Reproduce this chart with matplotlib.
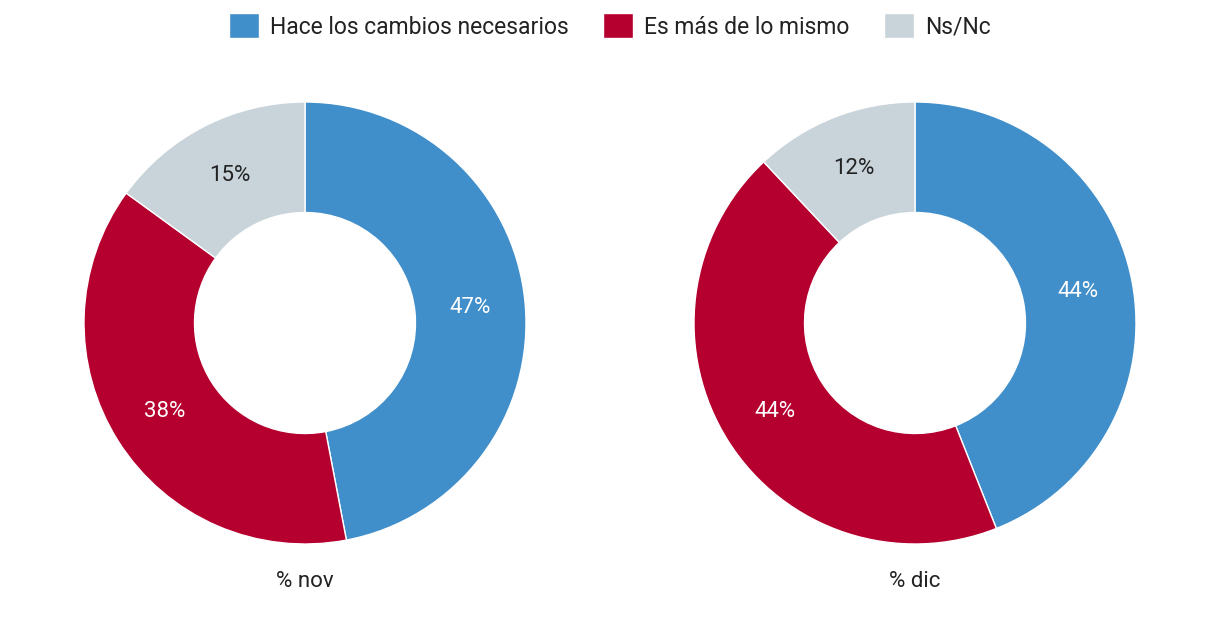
import numpy as np
import matplotlib.pyplot as plt

categories = ['Hace los cambios necesarios', 'Es más de lo mismo', 'Ns/Nc']
nov = [47, 38, 15]
dic = [44, 44, 12]
titles = ['% nov', '% dic']
colors = ['#418fca', '#b5002f', '#c8d3da']
text_colors = ['white', 'white', '#222222']

plt.rcParams['font.family'] = ['Roboto', 'DejaVu Sans']

fig = plt.figure(figsize=(12.2, 6.26), dpi=100)

def draw(cx, values, title):
    r = 221
    ax = fig.add_axes([(cx - r) / 1220, (626 - 544) / 626, 2 * r / 1220, 2 * r / 626])
    wedges, texts = ax.pie(values, colors=colors, startangle=90, counterclock=False,
                           radius=1, wedgeprops=dict(width=0.5, edgecolor='white', linewidth=1))
    for w, v, tc in zip(wedges, values, text_colors):
        ang = np.deg2rad((w.theta1 + w.theta2) / 2)
        ax.text(0.75 * np.cos(ang), 0.75 * np.sin(ang), f'{v}%', ha='center', va='center',
                color=tc, fontsize=16)
    ax.set_xlim(-1, 1)
    ax.set_ylim(-1, 1)
    ax.set_aspect('equal')
    ax.text(0, -1.17, title, ha='center', va='center', fontsize=16, color='#222222')
    return wedges

w = draw(305, nov, titles[0])
draw(915, dic, titles[1])

fig.legend(w, categories, loc='center', bbox_to_anchor=(0.5, 1 - 26 / 626), ncol=3,
           frameon=False, fontsize=16.5, handlelength=1.3, handleheight=1.3,
           columnspacing=1.5, handletextpad=0.5, labelcolor='#222222')

fig.savefig('out.png', dpi=100)
